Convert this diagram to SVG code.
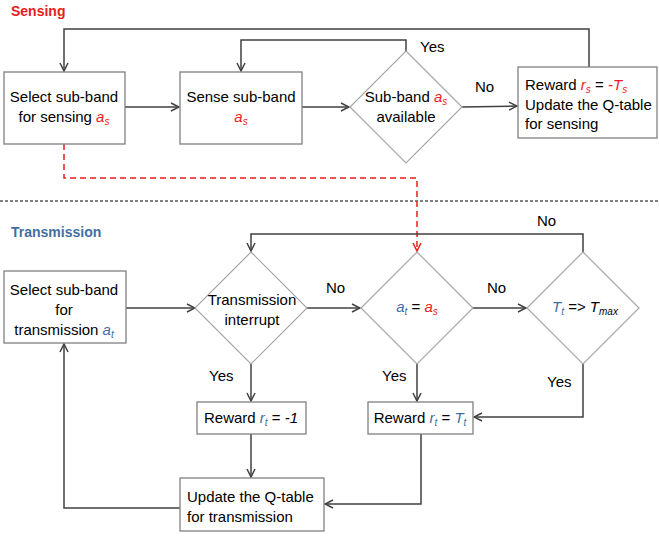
<svg xmlns="http://www.w3.org/2000/svg" width="659" height="536" viewBox="0 0 659 536">
<style>
text{font-family:"Liberation Sans",Arial,sans-serif;font-size:15px;fill:#000}
.t{font-weight:bold;font-size:14px}
.m{text-anchor:middle}
.r{fill:#e81c1c;font-style:italic}
.b{fill:#3f6ea5;font-style:italic}
.i{font-style:italic}
.s{font-size:10px}
.box{fill:#fff;stroke:#808080;stroke-width:1.3}
.dia{fill:#fff;stroke:#a6a6a6;stroke-width:1.2}
.c{fill:none;stroke:#404040;stroke-width:1.5}
</style>
<defs>
<marker id="a" viewBox="0 0 10 10" refX="9" refY="5" markerWidth="10" markerHeight="10" markerUnits="userSpaceOnUse" orient="auto"><path d="M1,1 L9,5 L1,9" fill="none" stroke="#404040" stroke-width="1.5"/></marker>
<marker id="ar" viewBox="0 0 10 10" refX="9" refY="5" markerWidth="10" markerHeight="10" markerUnits="userSpaceOnUse" orient="auto"><path d="M1,1 L9,5 L1,9" fill="none" stroke="#e81c1c" stroke-width="1.5"/></marker>
</defs>
<rect width="659" height="536" fill="#fff"/>
<text class="t" x="11" y="16" style="fill:#e81c1c">Sensing</text>
<text class="t" x="11" y="237" style="fill:#3f6ea5">Transmission</text>
<line x1="0" y1="201" x2="659" y2="201" stroke="#000" stroke-width="1" stroke-dasharray="3,2"/>
<g id="connectors">
<path class="c" d="M125,107 H179" marker-end="url(#a)"/>
<path class="c" d="M302,107 H349" marker-end="url(#a)"/>
<path class="c" d="M406,51 V40 H241 V71" marker-end="url(#a)"/>
<path class="c" d="M462,107 L517,106" marker-end="url(#a)"/>
<path class="c" d="M589,67 V29 H64 V71" marker-end="url(#a)"/>
<path d="M64,144 V178 H417 V251" fill="none" stroke="#e81c1c" stroke-width="1.5" stroke-dasharray="6,4" marker-end="url(#ar)"/>
<path class="c" d="M126,308 H195" marker-end="url(#a)"/>
<path class="c" d="M307,308 H360" marker-end="url(#a)"/>
<path class="c" d="M473,308 H526" marker-end="url(#a)"/>
<path class="c" d="M583,252 V234 H251 V251" marker-end="url(#a)"/>
<path class="c" d="M251,364 V401" marker-end="url(#a)"/>
<path class="c" d="M417,364 V401" marker-end="url(#a)"/>
<path class="c" d="M583,364 V417 H474" marker-end="url(#a)"/>
<path class="c" d="M251,434 V477" marker-end="url(#a)"/>
<path class="c" d="M421,434 V504 H325" marker-end="url(#a)"/>
<path class="c" d="M180,508 H64 V344" marker-end="url(#a)"/>
<text x="420" y="52">Yes</text>
<text x="475" y="92">No</text>
<text x="326" y="293">No</text>
<text x="487" y="293">No</text>
<text x="537" y="226">No</text>
<text x="209" y="381">Yes</text>
<text x="382" y="381">Yes</text>
<text x="547" y="387">Yes</text>
</g>
<g id="select-sensing">
<rect class="box" x="4" y="72" width="121" height="72"/>
<text class="m" x="64" y="102">Select sub-band</text>
<text class="m" x="64" y="122">for sensing <tspan class="r">a</tspan><tspan class="r s" dy="3">s</tspan></text>
</g>
<g id="sense">
<rect class="box" x="180" y="72" width="122" height="72"/>
<text class="m" x="241" y="102">Sense sub-band</text>
<text class="m" x="241" y="122"><tspan class="r">a</tspan><tspan class="r s" dy="3">s</tspan></text>
</g>
<g id="available">
<path class="dia" d="M406,51 L462,107 L406,163 L350,107 Z"/>
<text class="m" x="406" y="102">Sub-band <tspan class="r">a</tspan><tspan class="r s" dy="3">s</tspan></text>
<text class="m" x="406" y="122">available</text>
</g>
<g id="reward-sensing">
<rect class="box" x="518" y="67" width="139" height="71"/>
<text x="525" y="90">Reward <tspan class="r">r</tspan><tspan class="r s" dy="3">s</tspan><tspan dy="-3"> = </tspan><tspan class="r">-T</tspan><tspan class="r s" dy="3">s</tspan></text>
<text x="525" y="110">Update the Q-table</text>
<text x="525" y="129">for sensing</text>
</g>
<g id="select-transmission">
<rect class="box" x="4" y="271" width="122" height="72"/>
<text class="m" x="64" y="295">Select sub-band</text>
<text class="m" x="64" y="315">for</text>
<text class="m" x="64" y="335">transmission <tspan class="b">a</tspan><tspan class="b s" dy="3">t</tspan></text>
</g>
<g id="interrupt">
<path class="dia" d="M251,252 L307,308 L251,364 L195,308 Z"/>
<text class="m" x="252" y="305">Transmission</text>
<text class="m" x="252" y="325">interrupt</text>
</g>
<g id="equal">
<path class="dia" d="M417,252 L473,308 L417,364 L361,308 Z"/>
<text class="m" x="417" y="312"><tspan class="b">a</tspan><tspan class="b s" dy="3">t</tspan><tspan dy="-3"> = </tspan><tspan class="r">a</tspan><tspan class="r s" dy="3">s</tspan></text>
</g>
<g id="tmax">
<path class="dia" d="M583,252 L639,308 L583,364 L527,308 Z"/>
<text class="m" x="585" y="312"><tspan class="b">T</tspan><tspan class="b s" dy="3">t</tspan><tspan dy="-3"> =&gt; </tspan><tspan class="i">T</tspan><tspan class="i s" dy="3">max</tspan></text>
</g>
<g id="reward-neg">
<rect class="box" x="197" y="402" width="109" height="32"/>
<text class="m" x="251" y="423">Reward <tspan class="b">r</tspan><tspan class="b s" dy="3">t</tspan><tspan dy="-3"> = </tspan><tspan class="i">-1</tspan></text>
</g>
<g id="reward-tt">
<rect class="box" x="368" y="402" width="105" height="32"/>
<text class="m" x="420" y="423">Reward <tspan class="b">r</tspan><tspan class="b s" dy="3">t</tspan><tspan dy="-3"> = </tspan><tspan class="b">T</tspan><tspan class="b s" dy="3">t</tspan></text>
</g>
<g id="update-transmission">
<rect class="box" x="180" y="478" width="144" height="53"/>
<text x="187" y="502">Update the Q-table</text>
<text x="187" y="522">for transmission</text>
</g>
</svg>
